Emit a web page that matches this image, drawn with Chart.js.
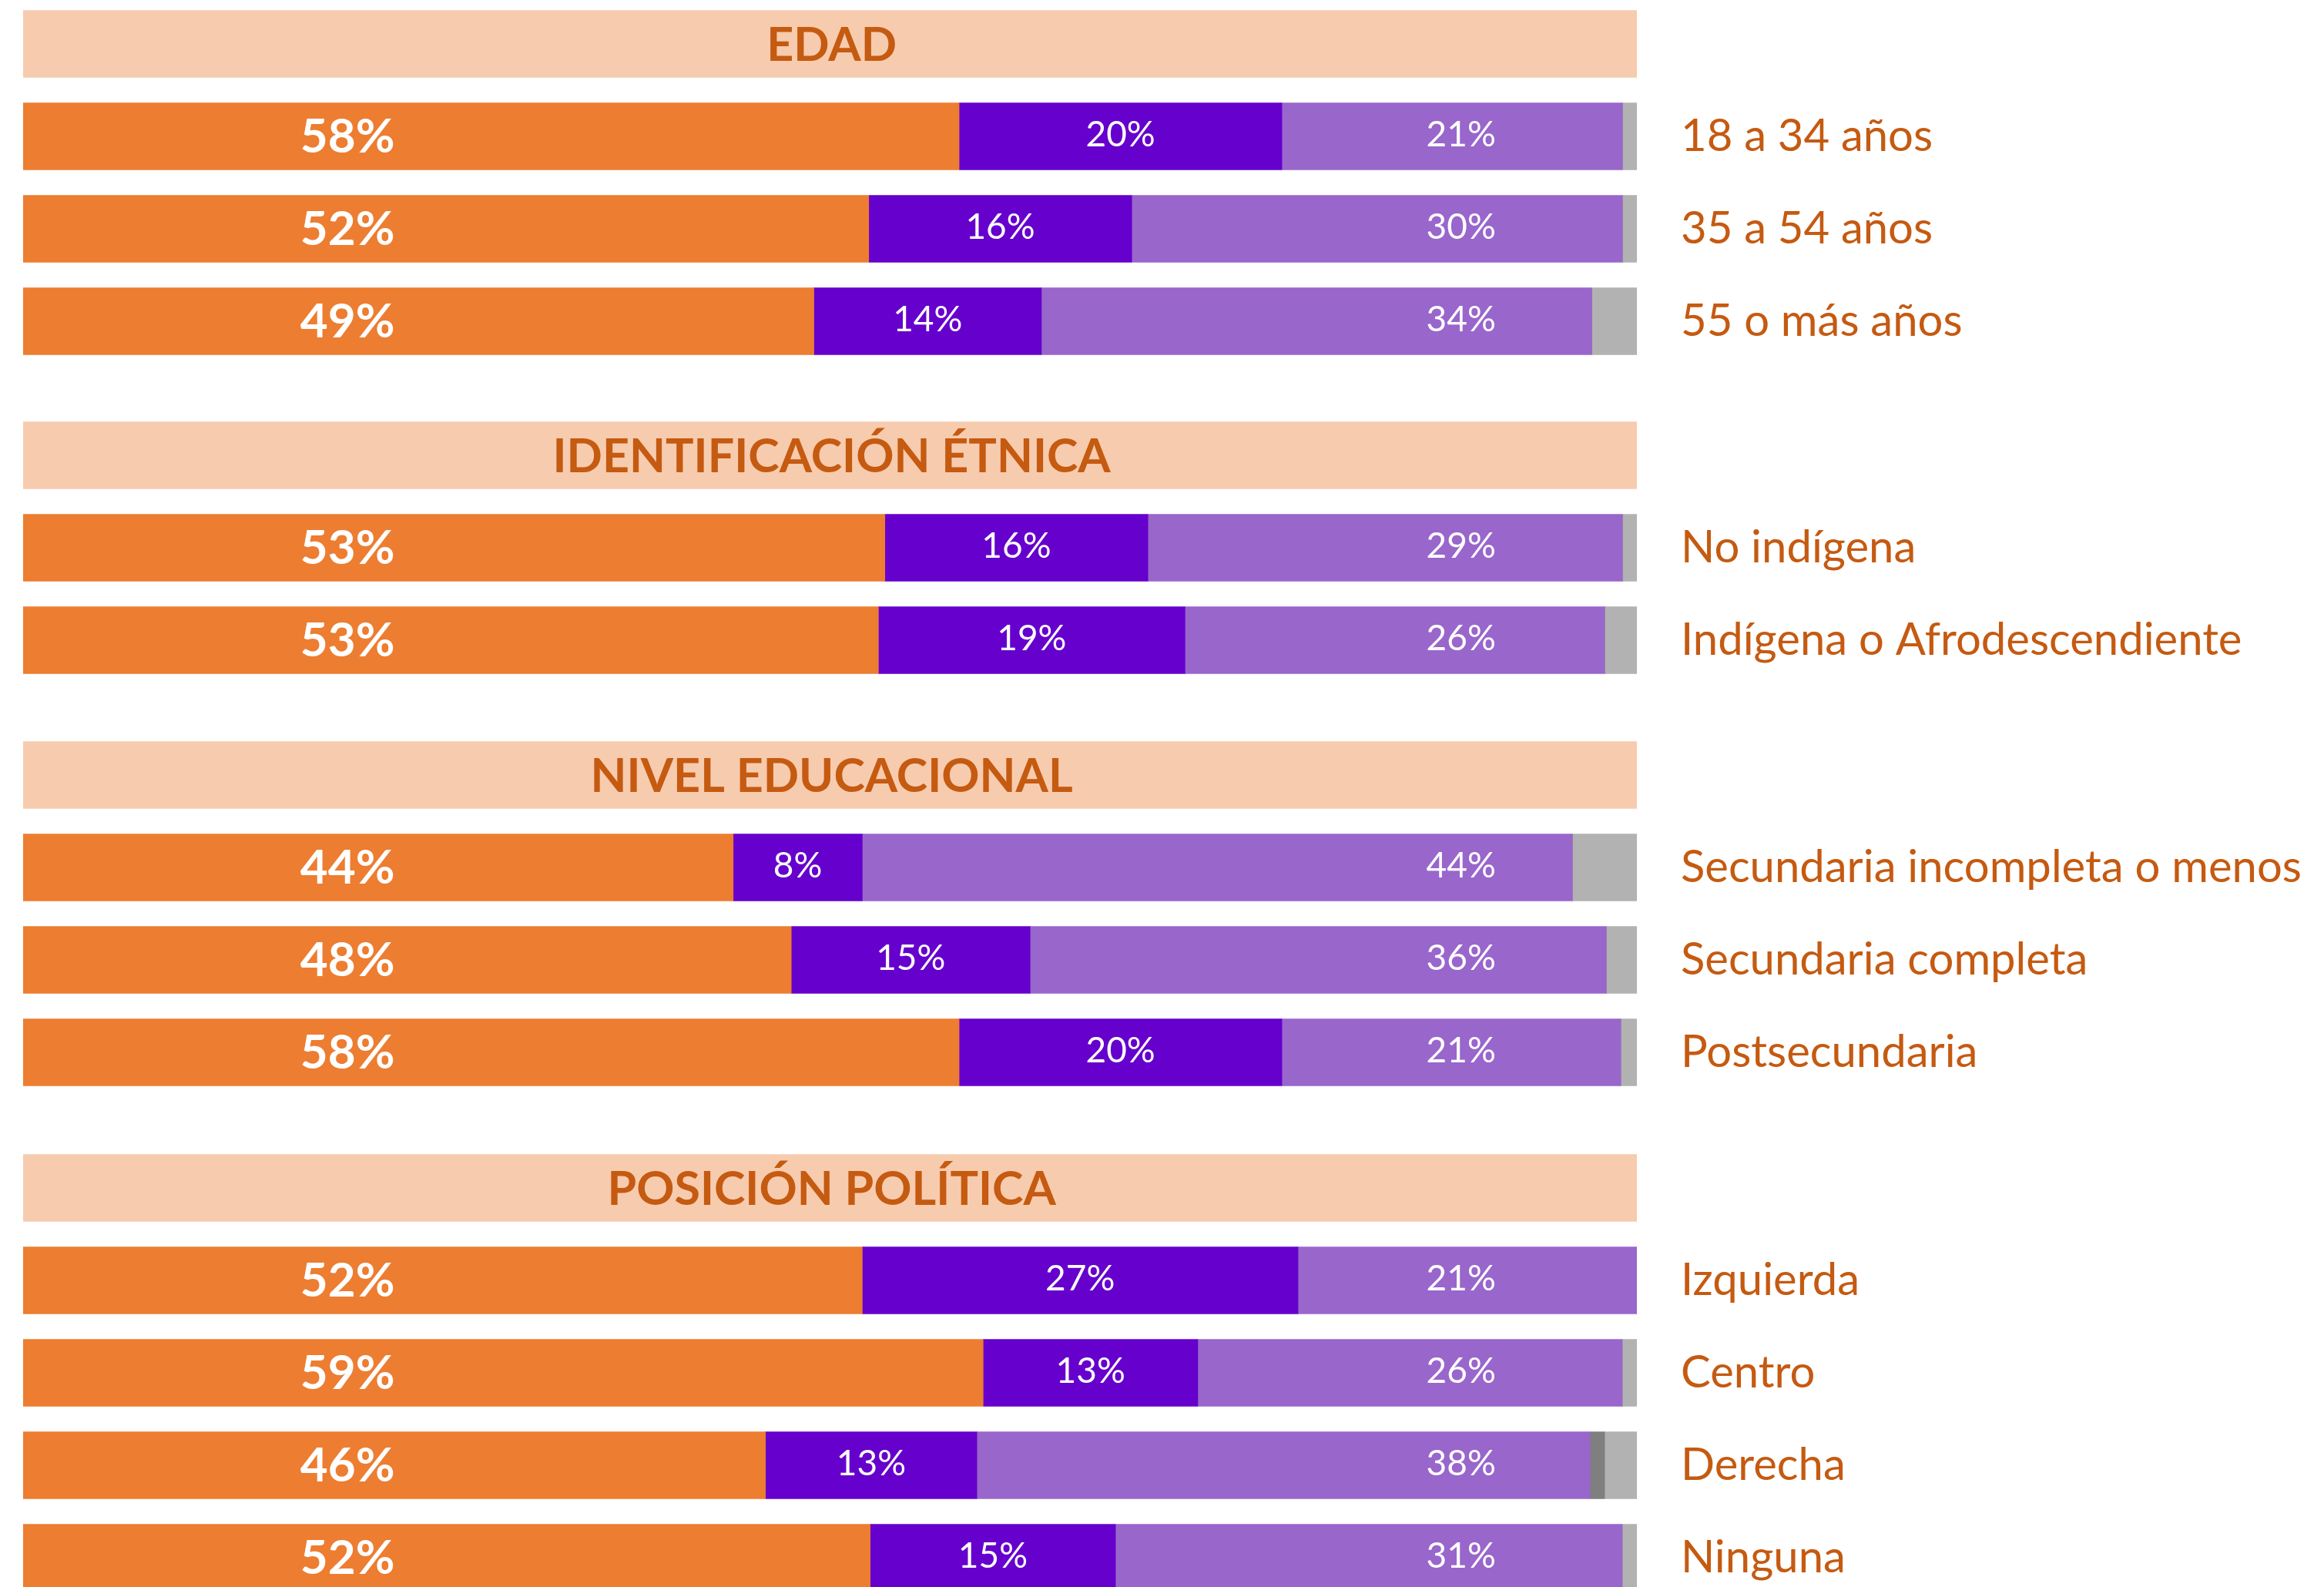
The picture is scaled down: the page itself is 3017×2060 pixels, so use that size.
<!DOCTYPE html>
<html>
<head>
<meta charset="utf-8">
<script src="https://cdn.jsdelivr.net/npm/chart.js@4.4.1/dist/chart.umd.min.js"></script>
<style>
  html, body { margin: 0; padding: 0; background: #fff; overflow: hidden; }
  body { width: 3017px; height: 2060px; position: relative; }
  .grp { position: absolute; left: 0; width: 3017px; }
  .grp canvas { display: block; }
</style>
</head>
<body>
<div id="wrap"></div>
<script>
// ---- data ----
const groupTitles = ['EDAD', 'IDENTIFICACIÓN ÉTNICA', 'NIVEL EDUCACIONAL', 'POSICIÓN POLÍTICA'];
const categories = [
  '18 a 34 años', '35 a 54 años', '55 o más años',
  'No indígena', 'Indígena o Afrodescendiente',
  'Secundaria incompleta o menos', 'Secundaria completa', 'Postsecundaria',
  'Izquierda', 'Centro', 'Derecha', 'Ninguna'
];
const groupOf = [0, 0, 0, 1, 1, 2, 2, 2, 3, 3, 3, 3];
const orangeValues      = [58.0, 52.4, 49.0, 53.4, 53.0, 44.0, 47.6, 58.0, 52.0, 59.49, 46.0, 52.49];
const darkPurpleValues  = [20.0, 16.3, 14.1, 16.3, 19.0,  8.0, 14.8, 20.0, 27.0, 13.3, 13.1, 15.2];
const lightPurpleValues = [21.1, 30.4, 34.1, 29.4, 26.0, 44.0, 35.7, 21.0, 21.0, 26.3, 38.0, 31.4];
const darkGreyValues    = [0, 0, 0, 0, 0, 0, 0, 0, 0, 0, 0.9, 0];
const lightGreyValues   = [0.9, 0.9, 2.8, 0.9, 2.0, 4.0, 1.9, 1.0, 0, 0.9, 2.0, 0.9];

// ---- layout / style ----
const groupTops = [-3.5, 530.5, 945.5, 1481.5];
const rowPitch = 120;
const plotRight = 2125;
const TEXT = '#C55A11';
const FONT = 'Lato, "Open Sans", sans-serif';

const labelPlugin = {
  id: 'segLabels',
  afterDatasetsDraw(chart) {
    const ctx = chart.ctx;
    const xs = chart.scales.x;
    ctx.save();
    ctx.textBaseline = 'middle';
    ctx.textAlign = 'center';
    chart.data.datasets.forEach((ds, di) => {
      if (!ds.labelMode) return;
      const meta = chart.getDatasetMeta(di);
      meta.data.forEach((bar, i) => {
        const v = ds.data[i];
        if (v == null || v === 0) return;
        if (ds.labelMode === 'title') {
          ctx.font = 'bold 61px ' + FONT;
          ctx.fillStyle = TEXT;
          ctx.fillText(ds.title, xs.getPixelForValue(50.1), bar.y + 2);
          return;
        }
        const txt = Math.round(v) + '%';
        ctx.fillStyle = '#fff';
        if (ds.labelMode === 'fixedBig') {
          ctx.font = 'bold 62px ' + FONT;
          ctx.fillText(txt, xs.getPixelForValue(20.1), bar.y + 1);
        } else if (ds.labelMode === 'center') {
          ctx.font = '46px ' + FONT;
          ctx.fillText(txt, (bar.base + bar.x) / 2, bar.y - 2);
        } else if (ds.labelMode === 'fixedRight') {
          ctx.font = '46px ' + FONT;
          ctx.fillText(txt, xs.getPixelForValue(89.1), bar.y - 2);
        }
      });
    });
    ctx.restore();
  }
};

const wrap = document.getElementById('wrap');

groupTitles.forEach((title, g) => {
  const idx = [];
  groupOf.forEach((gg, i) => { if (gg === g) idx.push(i); });
  const labels = [title].concat(idx.map(i => categories[i]));
  const pick = arr => [null].concat(idx.map(i => arr[i]));
  const h = labels.length * rowPitch;

  const div = document.createElement('div');
  div.className = 'grp';
  div.style.top = groupTops[g] + 'px';
  div.style.height = h + 'px';
  const cv = document.createElement('canvas');
  cv.width = 3017;
  cv.height = h;
  div.appendChild(cv);
  wrap.appendChild(div);

  const headerData = labels.map((l, i) => i === 0 ? 100 : null);

  new Chart(cv, {
    type: 'bar',
    data: {
      labels: labels,
      datasets: [
        { label: 'encabezado', data: headerData, backgroundColor: '#F7CBAE', labelMode: 'title', title: title },
        { label: 'serie 1', data: pick(orangeValues), backgroundColor: '#ED7D31', labelMode: 'fixedBig' },
        { label: 'serie 2', data: pick(darkPurpleValues), backgroundColor: '#6600CC', labelMode: 'center' },
        { label: 'serie 3', data: pick(lightPurpleValues), backgroundColor: '#9966CC', labelMode: 'fixedRight' },
        { label: 'serie 4', data: pick(darkGreyValues), backgroundColor: '#7F7F7F' },
        { label: 'serie 5', data: pick(lightGreyValues), backgroundColor: '#B2B2B2' }
      ]
    },
    options: {
      indexAxis: 'y',
      responsive: false,
      maintainAspectRatio: false,
      animation: false,
      events: [],
      datasets: { bar: { barThickness: 87, borderWidth: 0 } },
      layout: { padding: { left: 30, right: 0, top: 0, bottom: 0 } },
      plugins: { legend: { display: false }, tooltip: { enabled: false } },
      scales: {
        x: { stacked: true, min: 0, max: 100, display: false },
        y: {
          stacked: true,
          position: 'right',
          grid: { display: false, drawTicks: false },
          border: { display: false },
          afterFit(scale) {
            scale.width = 3017 - plotRight;
            scale.paddingTop = 0;
            scale.paddingBottom = 0;
          },
          ticks: {
            autoSkip: false,
            padding: 57,
            color: TEXT,
            font: { family: FONT, size: 58 },
            callback: function (v, i) { return i === 0 ? '' : this.getLabelForValue(v); }
          }
        }
      }
    },
    plugins: [labelPlugin]
  });
});
</script>
</body>
</html>
